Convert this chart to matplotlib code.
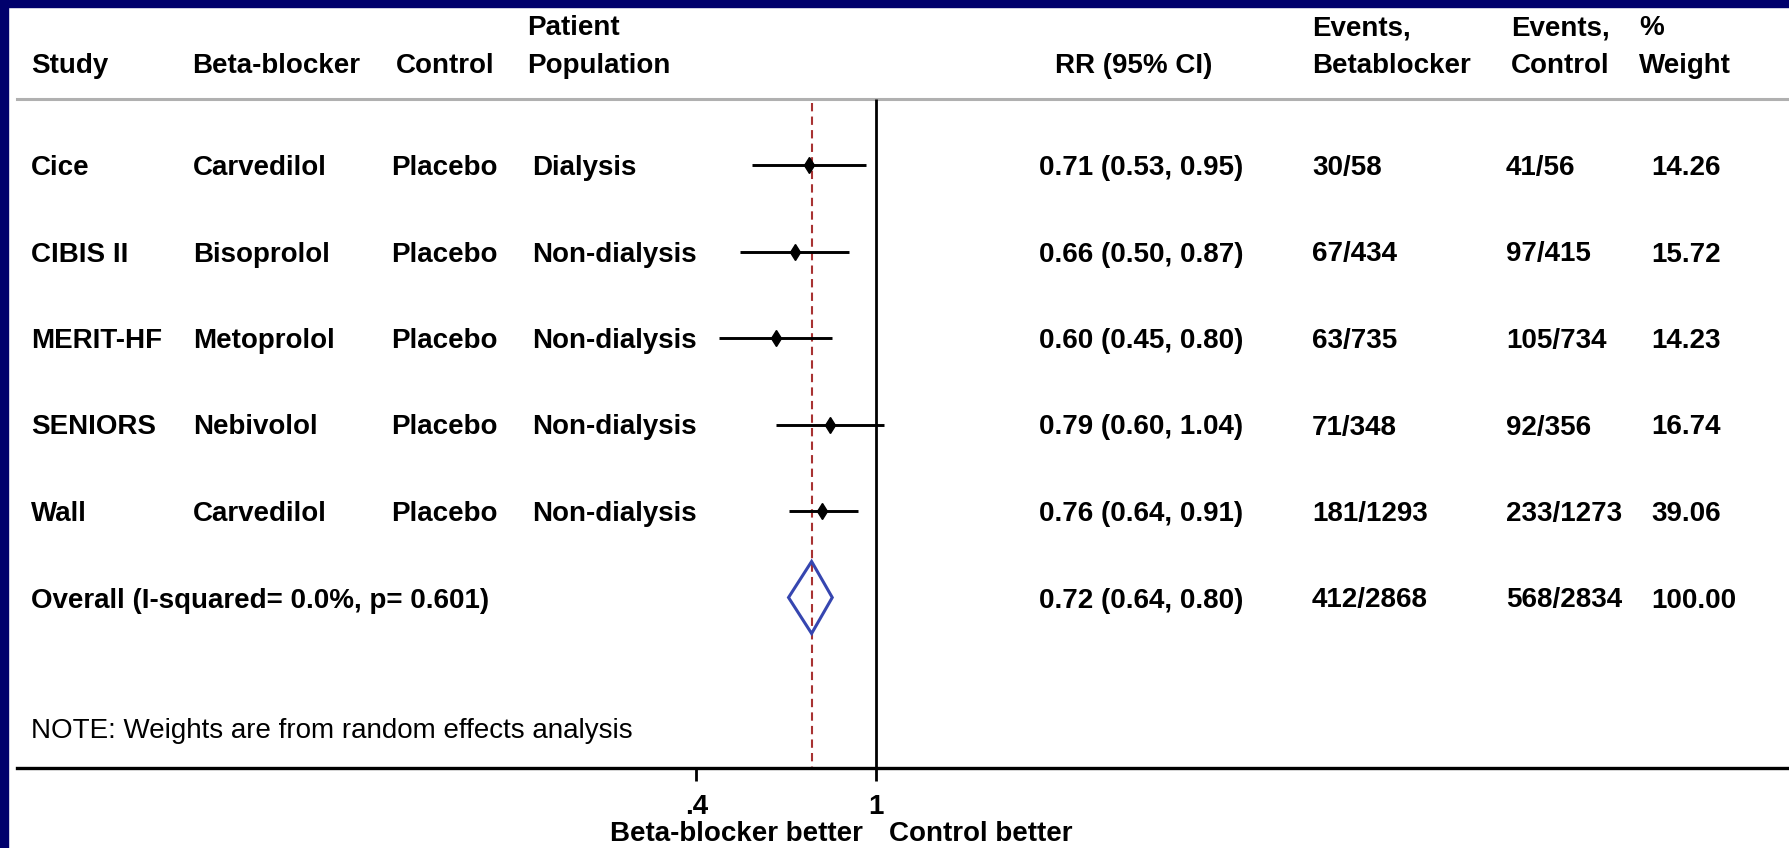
import numpy as np
import matplotlib
matplotlib.use("Agg")
import matplotlib.pyplot as plt
from matplotlib.ticker import FixedLocator, FixedFormatter, NullLocator

# data
studies = ['Cice', 'CIBIS II', 'MERIT-HF', 'SENIORS', 'Wall']
beta_blockers = ['Carvedilol', 'Bisoprolol', 'Metoprolol', 'Nebivolol', 'Carvedilol']
controls = ['Placebo', 'Placebo', 'Placebo', 'Placebo', 'Placebo']
populations = ['Dialysis', 'Non-dialysis', 'Non-dialysis', 'Non-dialysis', 'Non-dialysis']
rr = [0.71, 0.66, 0.60, 0.79, 0.76]
rr_lo = [0.53, 0.50, 0.45, 0.60, 0.64]
rr_hi = [0.95, 0.87, 0.80, 1.04, 0.91]
events_bb = ['30/58', '67/434', '63/735', '71/348', '181/1293']
events_ctl = ['41/56', '97/415', '105/734', '92/356', '233/1273']
weights = [14.26, 15.72, 14.23, 16.74, 39.06]

overall_label = 'Overall (I-squared= 0.0%, p= 0.601)'
overall_rr, overall_lo, overall_hi = 0.72, 0.64, 0.80
overall_bb, overall_ctl, overall_w = '412/2868', '568/2834', 100.00
note = 'NOTE: Weights are from random effects analysis'

x_ticks = [0.4, 1]
x_ticklabels = ['.4', '1']

# layout (pixels of the 1789x848 picture)
W, H = 1789, 848
x1_px, px_per_ln = 876, 196          # where RR = 1 sits, pixels per log unit
plot_left = 17
row0, row_step = 165, 86.5
sep_y, axis_y = 99, 768
navy = '#00006c'
bold = dict(fontsize=20, fontweight='bold', color='black', va='baseline')

plt.rcParams['font.family'] = ['Liberation Sans', 'DejaVu Sans']

fig = plt.figure(figsize=(W / 100, H / 100), dpi=100)

# text layer in pixel coordinates
tx = fig.add_axes([0, 0, 1, 1])
tx.set_xlim(0, W)
tx.set_ylim(H, 0)
tx.axis('off')
tx.add_patch(plt.Rectangle((0, 0), W, H, color='white', zorder=0))
tx.add_patch(plt.Rectangle((0, 0), 8, H, color=navy, zorder=1))
tx.add_patch(plt.Rectangle((0, 0), W, 7, color=navy, zorder=1))

# headers
for x, s in zip([527, 1312, 1511, 1639], ['Patient', 'Events,', 'Events,', '%']):
    tx.text(x, 35, s, **bold)
for x, s in zip([31, 192, 396, 527, 1055, 1312, 1511, 1639],
                ['Study', 'Beta-blocker', 'Control', 'Population', 'RR (95% CI)',
                 'Betablocker', 'Control', 'Weight']):
    tx.text(x, 73, s, **bold)
tx.plot([plot_left, W], [sep_y, sep_y], color='#b0b0b0', lw=2.2)

rows_y = [row0 + i * row_step for i in range(len(studies))]
for i, y in enumerate(rows_y):
    b = y + 10
    tx.text(31, b, studies[i], **bold)
    tx.text(193, b, beta_blockers[i], **bold)
    tx.text(391, b, controls[i], **bold)
    tx.text(532, b, populations[i], **bold)
    tx.text(1039, b, f'{rr[i]:.2f} ({rr_lo[i]:.2f}, {rr_hi[i]:.2f})', **bold)
    tx.text(1312, b, events_bb[i], **bold)
    tx.text(1506, b, events_ctl[i], **bold)
    tx.text(1651, b, f'{weights[i]:.2f}', **bold)

y_ov = row0 + len(studies) * row_step
tx.text(31, y_ov + 10, overall_label, **bold)
tx.text(1039, y_ov + 10, f'{overall_rr:.2f} ({overall_lo:.2f}, {overall_hi:.2f})', **bold)
tx.text(1312, y_ov + 10, overall_bb, **bold)
tx.text(1506, y_ov + 10, overall_ctl, **bold)
tx.text(1651, y_ov + 10, f'{overall_w:.2f}', **bold)

tx.text(31, 738, note, fontsize=20, color='black', va='baseline')
tx.text(x1_px - 13, 841, 'Beta-blocker better', ha='right', **bold)
tx.text(x1_px + 13, 841, 'Control better', ha='left', **bold)

# forest plot on a log axis
ax = fig.add_axes([plot_left / W, 0, (W - plot_left) / W, 1])
ax.set_facecolor('none')
ax.set_xscale('log')
ax.set_xlim(np.exp((plot_left - x1_px) / px_per_ln), np.exp((W - x1_px) / px_per_ln))
ax.set_ylim(H, 0)
for side in ['left', 'right', 'top']:
    ax.spines[side].set_visible(False)
ax.spines['bottom'].set_position(('data', axis_y))
ax.spines['bottom'].set_linewidth(2.4)
ax.yaxis.set_major_locator(NullLocator())
ax.xaxis.set_major_locator(FixedLocator(x_ticks))
ax.xaxis.set_major_formatter(FixedFormatter(x_ticklabels))
ax.xaxis.set_minor_locator(NullLocator())
ax.tick_params(axis='x', direction='out', length=9.5, width=2, pad=9,
               labelsize=20)
for lab in ax.get_xticklabels():
    lab.set_fontweight('bold')

ax.vlines(1, sep_y, axis_y, color='black', lw=2)
ax.vlines(overall_rr, sep_y + 4, axis_y, color='#a83232', lw=1.5,
          linestyles=(0, (4, 2.5)))
ax.hlines(rows_y, rr_lo, rr_hi, color='black', lw=2.1)
ax.plot(rr, rows_y, 'd', ms=8, color='black')
ax.fill([overall_lo, overall_rr, overall_hi, overall_rr],
        [y_ov, y_ov - 36, y_ov, y_ov + 36],
        facecolor='none', edgecolor='#3646b0', lw=2.2, zorder=3)

fig.savefig('out.png', dpi=100, facecolor='white')
